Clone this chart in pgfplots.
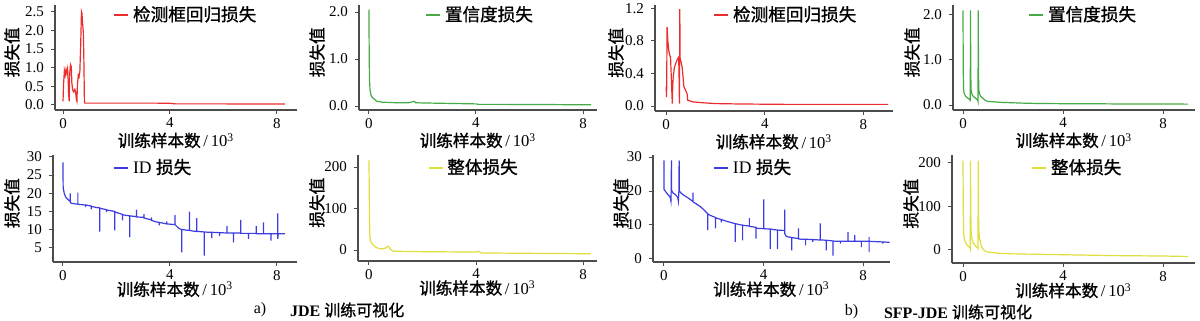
\documentclass[border=0pt]{standalone}
\usepackage{pgfplots}
\pgfplotsset{compat=1.18}
\usepackage{fontspec}
\setmainfont{Liberation Serif}
\newfontfamily\cjk[FakeBold=1.2]{Noto Sans CJK SC}
\definecolor{cred}{RGB}{236,45,45}
\definecolor{cgreen}{RGB}{70,170,70}
\definecolor{cblue}{RGB}{60,60,225}
\definecolor{cyellow}{RGB}{222,222,60}
\pgfplotsset{
 panel/.style={
  scale only axis, anchor=south west,
  axis lines=left,
  axis line style={-, draw=black!70, line width=0.6pt},
  tick align=outside, major tick length=2pt,
  tick style={black!70, line width=0.5pt},
  xtick={0,4,8},
  tick label style={font=\fontsize{7.5}{8}\selectfont},
  xticklabel style={yshift=1.5pt},
  /pgf/number format/assume math mode=true,
  xlabel={{\cjk 训练样本数}\,/\,10\textsuperscript{3}},
  ylabel={\cjk 损失值},
  label style={font=\fontsize{8.3}{9}\selectfont},
  legend style={draw=none, fill=none, font=\fontsize{8.8}{9}\selectfont, inner sep=0pt, anchor=west},
  legend cell align=left,
  legend image code/.code={\draw[##1, line width=0.8pt] (0pt,0pt) -- (7pt,0pt);},
  every axis plot/.append style={line width=0.6pt},
 },
 toprow/.style={xlabel style={at={(axis description cs:0.5,-0.29)}, anchor=center}},
 botrow/.style={xlabel style={at={(axis description cs:0.5,-0.255)}, anchor=center}},
 ylab/.style={ylabel style={at={(axis description cs:#1,0.55)}, anchor=center}},
 leg/.style 2 args={legend style={at={(axis description cs:#1,#2)}}},
 onedec/.style={yticklabel style={/pgf/number format/.cd, fixed, fixed zerofill, precision=1}},
}
\begin{document}
\begin{tikzpicture}
\path[use as bounding box] (0,0) rectangle (600pt,160.5pt);

% ---------- P1: JDE box regression
\begin{axis}[panel, toprow, ylab=-0.178, leg={0.24}{0.905}, onedec,
  at={(27.5pt,105.5pt)}, width=121pt, height=52.5pt,
  xmin=-0.3, xmax=8.75, ymin=-0.134, ymax=2.68, ytick={0,0.5,1,1.5,2,2.5}]
\addplot[cred] coordinates {
(0,0.10) (0.02,0.55) (0.05,0.92) (0.08,0.80) (0.11,0.95) (0.14,0.85) (0.17,0.97)
(0.19,0.70) (0.21,0.30) (0.23,0.10) (0.25,0.85) (0.28,1.08) (0.31,1.02) (0.33,0.60)
(0.36,0.40) (0.40,0.35) (0.44,0.42) (0.47,0.35) (0.50,0.15) (0.52,0.10) (0.54,0.55)
(0.57,0.80) (0.60,0.75) (0.63,0.90) (0.66,1.60) (0.69,2.50) (0.71,2.45) (0.73,2.20)
(0.76,1.95) (0.78,1.20) (0.80,0.10) (0.82,0.05) (1.0,0.05) (1.5,0.05) (2.0,0.05)
(2.5,0.05) (3.0,0.05) (3.5,0.05) (4.0,0.045) (4.2,0.03) (5,0.03) (6,0.03) (7,0.025)
(8,0.025) (8.3,0.025)};
\addlegendentry{\cjk 检测框回归损失}
\end{axis}

% ---------- P2: JDE confidence
\begin{axis}[panel, toprow, ylab=-0.176, leg={0.277}{0.905}, onedec,
  at={(179.5pt,105.5pt)}, width=119pt, height=52.5pt,
  xmin=-0.37, xmax=8.52, ymin=-0.085, ymax=2.15, ytick={0,1,2}]
\addplot[cgreen] coordinates {
(0,2.05) (0.01,1.2) (0.02,0.6) (0.04,0.35) (0.07,0.25) (0.10,0.20) (0.15,0.17)
(0.2,0.15) (0.25,0.12) (0.3,0.10) (0.4,0.09) (0.5,0.08) (0.8,0.075) (1.0,0.07)
(1.5,0.07) (1.7,0.10) (1.75,0.07) (2.0,0.065) (2.5,0.06) (3.0,0.055) (3.5,0.05)
(4.0,0.045) (4.1,0.035) (5,0.035) (6,0.03) (7,0.03) (8,0.025) (8.3,0.025)};
\addlegendentry{\cjk 置信度损失}
\end{axis}

% ---------- P3: SFP-JDE box regression
\begin{axis}[panel, toprow, ylab=-0.164, leg={0.244}{0.905}, onedec,
  at={(327.5pt,105pt)}, width=119pt, height=53pt,
  xmin=-0.45, xmax=9.2, ymin=-0.061, ymax=1.24, ytick={0,0.4,0.8,1.2}]
\addplot[cred] coordinates {
(0,0.24) (0.02,0.11) (0.04,0.97) (0.07,0.80) (0.11,0.68) (0.15,0.62) (0.18,0.60)
(0.22,0.28) (0.25,0.03) (0.27,0.25) (0.29,0.36) (0.34,0.48) (0.40,0.53) (0.45,0.57)
(0.51,0.60) (0.53,0.30) (0.54,0.03) (0.555,1.19) (0.57,0.57) (0.60,0.55) (0.65,0.48)
(0.72,0.24) (0.78,0.20) (0.85,0.15) (0.88,0.07) (1.1,0.05) (1.5,0.04) (2,0.03)
(3,0.025) (5,0.02) (7,0.02) (9,0.02)};
\addlegendentry{\cjk 检测框回归损失}
\end{axis}

% ---------- P4: SFP-JDE confidence
\begin{axis}[panel, toprow, ylab=-0.169, leg={0.31}{0.905}, onedec,
  at={(476.5pt,105.5pt)}, width=121pt, height=52.5pt,
  xmin=-0.4, xmax=9.28, ymin=-0.11, ymax=2.22, ytick={0,1,2}]
\addplot[cgreen] coordinates {
(0,2.1) (0.01,0.8) (0.02,0.35) (0.05,0.25) (0.1,0.2) (0.2,0.15) (0.28,0.12) (0.29,0.08)
(0.30,2.1) (0.31,0.8) (0.32,0.35) (0.35,0.25) (0.4,0.2) (0.5,0.15) (0.58,0.12) (0.60,0.08)
(0.61,2.1) (0.62,0.8) (0.63,0.35) (0.66,0.25) (0.7,0.2) (0.8,0.15) (0.9,0.1) (1.0,0.08)
(1.5,0.06) (2.0,0.05) (2.5,0.04) (3,0.035) (4,0.03) (5,0.03) (6,0.025) (7,0.025)
(8,0.025) (9,0.02)};
\addlegendentry{\cjk 置信度损失}
\end{axis}

% ---------- P5: JDE ID
\begin{axis}[panel, botrow, ylab=-0.168, leg={0.246}{0.88},
  at={(26.5pt,29.5pt)}, width=122pt, height=53.5pt,
  xmin=-0.37, xmax=8.75, ymin=1.15, ymax=30.5, ytick={5,10,15,20,25,30}]
\addplot[cblue] coordinates {
(0,28.5) (0.01,21.5) (0.05,20) (0.1,19) (0.2,18.2) (0.275,17.8) (0.275,20) (0.275,17.6)
(0.3,17.3) (0.45,17.1) (0.56,17) (0.56,20.2) (0.56,17) (0.8,16.8) (0.85,16.8) (0.85,16.2) (0.85,16.8)
(1.06,16.5) (1.06,15.6) (1.06,16.4) (1.25,16.1) (1.375,16) (1.375,9.5) (1.375,15.9)
(1.63,15.5) (1.63,14.8) (1.63,15.4) (1.8,15.2) (1.94,15) (1.94,9.8) (1.94,14.9)
(2.1,14.5) (2.23,14.2) (2.23,12.6) (2.23,14.1) (2.4,13.9) (2.5,13.8) (2.5,8) (2.5,13.8)
(2.75,13.6) (2.75,15.5) (2.75,13.5) (3.03,13.4) (3.03,14.3) (3.03,13.2) (3.15,13)
(3.31,12.7) (3.31,13.4) (3.31,12.6) (3.45,12.2) (3.6,12) (3.6,11.2) (3.6,12)
(3.75,11.8) (3.88,11.6) (3.88,12.3) (3.88,11.6) (4.19,11.4) (4.19,14) (4.19,11.4)
(4.3,10.6) (4.375,10.2) (4.44,10.1) (4.44,3.8) (4.44,10.1) (4.6,9.9) (4.73,9.8)
(4.73,15) (4.73,9.8) (4.9,9.6) (5.0,9.6) (5.0,13.2) (5.0,9.5) (5.1,9.5) (5.28,9.4)
(5.28,2.9) (5.28,9.4) (5.45,9.3) (5.56,9.3) (5.56,7.7) (5.56,9.3) (5.85,9.2) (5.85,8.3)
(5.85,9.2) (6.13,9.1) (6.13,11) (6.13,9.1) (6.38,9.1) (6.38,6.5) (6.38,9.1) (6.65,9.1)
(6.65,12.7) (6.65,9) (6.94,9) (6.94,7.5) (6.94,9) (7.23,9) (7.23,11) (7.23,8.9) (7.5,8.9)
(7.5,12) (7.5,8.9) (7.78,8.9) (7.78,7) (7.78,8.9) (8.03,8.9) (8.03,14.5) (8.03,7.5)
(8.05,8.9) (8.25,8.9) (8.3,8.9)};
\addlegendentry{ID {\cjk 损失}}
\end{axis}

% ---------- P6: JDE total
\begin{axis}[panel, botrow, ylab=-0.172, leg={0.29}{0.88},
  at={(179pt,30pt)}, width=119.5pt, height=53pt,
  xmin=-0.41, xmax=8.52, ymin=-26.5, ymax=229, ytick={0,100,200}]
\addplot[cyellow] coordinates {
(0,216) (0.01,150) (0.02,80) (0.03,40) (0.04,27) (0.08,18) (0.16,12) (0.25,7)
(0.35,4) (0.45,3) (0.55,3) (0.62,5) (0.68,8) (0.72,9) (0.76,6) (0.8,2) (0.88,-2)
(1.0,-3) (2,-4) (3,-4.5) (4,-5) (4.1,-3) (4.2,-7) (5,-7.5) (6,-8) (7,-8.5) (8.3,-9)};
\addlegendentry{\cjk 整体损失}
\end{axis}

% ---------- P7: SFP-JDE ID
\begin{axis}[panel, botrow, ylab=-0.135, leg={0.253}{0.88},
  at={(326.5pt,29.5pt)}, width=118.5pt, height=53.5pt,
  xmin=-0.44, xmax=9.08, ymin=-0.9, ymax=30.6, ytick={0,10,20,30}]
\addplot[cblue] coordinates {
(0,29) (0.005,20.5) (0.05,20) (0.15,19) (0.25,18.2) (0.28,17) (0.29,20) (0.30,29)
(0.305,20.3) (0.35,19.5) (0.45,19) (0.55,18.2) (0.58,17) (0.60,20) (0.61,29)
(0.615,20) (0.7,19.3) (0.79,18.8) (1.0,17.8) (1.17,16.9) (1.17,19.5) (1.17,16.8)
(1.3,16.2) (1.46,15.4) (1.6,14.5) (1.76,13.3) (1.76,8.5) (1.76,13.2) (1.9,12.7)
(2.07,12.2) (2.07,9) (2.07,12.1) (2.3,11.6) (2.3,10.8) (2.3,11.6) (2.55,11)
(2.86,10.4) (2.86,5) (2.86,10.4) (3.09,10) (3.16,10) (3.16,5.5) (3.16,9.9) (3.43,9.7)
(3.43,12) (3.43,9.6) (3.7,9.3) (3.7,6) (3.7,9.2) (3.77,9) (4.01,8.9) (4.01,17.5) (4.01,8.9)
(4.27,8.8) (4.27,3) (4.27,8.8) (4.45,8.6) (4.56,8.5) (4.56,3) (4.56,8.5) (4.79,8.4)
(4.85,8.3) (4.85,14.5) (4.85,7.5) (4.92,6.6) (5.13,6.3) (5.13,2.5) (5.13,6.3) (5.4,6)
(5.4,9) (5.4,5.9) (5.53,5.8) (5.69,5.8) (5.69,4) (5.69,5.8) (5.98,5.7) (5.98,5) (5.98,5.7)
(6.21,5.6) (6.28,5.6) (6.28,10.5) (6.28,5.6) (6.52,5.5) (6.52,2.5) (6.52,5.5) (6.79,5.3)
(6.79,1) (6.79,5.3) (6.89,5.2) (7.09,5.2) (7.09,4.5) (7.09,5.2) (7.39,5.2) (7.39,8)
(7.39,5.2) (7.66,5.2) (7.66,7) (7.66,5.2) (7.93,5.2) (7.93,3.5) (7.93,5.2) (8.24,5.2)
(8.24,6.5) (8.24,2) (8.24,5.2) (8.5,5.1) (8.79,5) (8.79,4.5) (8.79,5) (9.06,4.9)};
\addlegendentry{ID {\cjk 损失}}
\end{axis}

% ---------- P8: SFP-JDE total
\begin{axis}[panel, botrow, ylab=-0.169, leg={0.325}{0.88},
  at={(476pt,29pt)}, width=121.5pt, height=54pt,
  xmin=-0.44, xmax=9.28, ymin=-30, ymax=218, ytick={0,100,200}]
\addplot[cyellow] coordinates {
(0,205) (0.01,100) (0.02,50) (0.04,30) (0.08,20) (0.15,12) (0.22,8) (0.28,5) (0.29,3)
(0.30,205) (0.31,100) (0.32,50) (0.34,30) (0.38,20) (0.45,12) (0.52,8) (0.58,5) (0.60,3)
(0.61,205) (0.62,100) (0.63,50) (0.65,30) (0.69,20) (0.74,8) (0.8,2) (0.9,-3) (1.0,-5)
(1.5,-8) (2,-9) (3,-10) (4,-11) (5,-12) (6,-13) (7,-13.5) (8,-14) (9,-15)};
\addlegendentry{\cjk 整体损失}
\end{axis}

% captions
\node[anchor=center, font=\fontsize{8}{9}\selectfont] at (130pt,5.5pt) {a)};
\node[anchor=west, font=\fontsize{8}{9}\selectfont] at (141.5pt,5.5pt) {\textbf{JDE} {\cjk 训练可视化}};
\node[anchor=center, font=\fontsize{8}{9}\selectfont] at (425.75pt,4.5pt) {b)};
\node[anchor=west, font=\fontsize{8}{9}\selectfont] at (438.5pt,4.5pt) {\textbf{SFP-JDE} {\cjk 训练可视化}};
\end{tikzpicture}
\end{document}
